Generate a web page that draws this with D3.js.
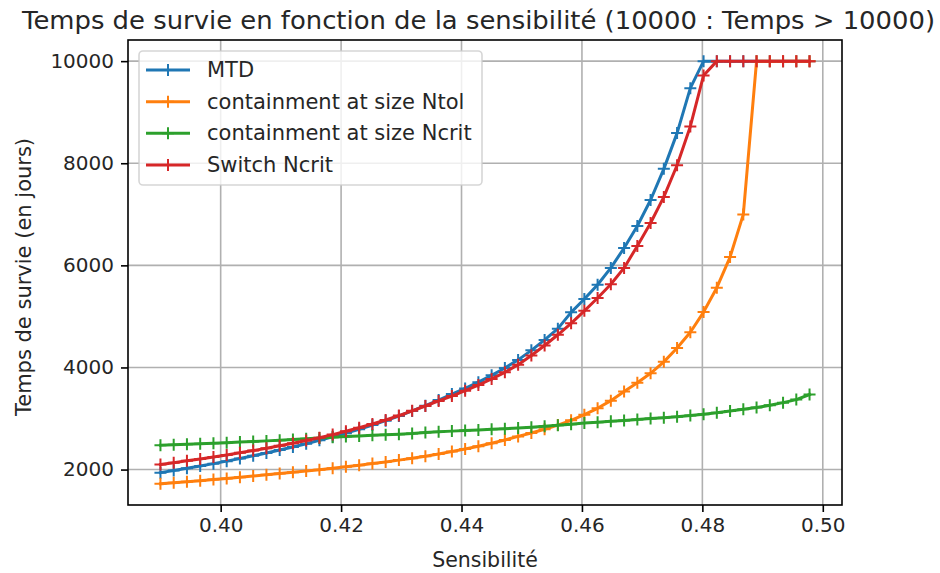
<!DOCTYPE html>
<html>
<head>
<meta charset="utf-8">
<script src="https://cdn.jsdelivr.net/npm/d3@7"></script>
<style>
  body { margin: 0; background: #fff; }
  text { font-family: "DejaVu Sans", sans-serif; fill: #262626; }
</style>
</head>
<body>
<svg id="chart" width="940" height="573"></svg>
<script>
// Sensibilité values (x)
const sensibilite = [
  0.3900, 0.3922, 0.3944, 0.3966, 0.3988, 0.4010, 0.4032, 0.4054, 0.4076, 0.4098,
  0.4120, 0.4142, 0.4164, 0.4186, 0.4208, 0.4230, 0.4252, 0.4274, 0.4296, 0.4318,
  0.4340, 0.4362, 0.4384, 0.4406, 0.4428, 0.4450, 0.4472, 0.4494, 0.4516, 0.4538,
  0.4560, 0.4582, 0.4604, 0.4626, 0.4648, 0.4670, 0.4692, 0.4714, 0.4736, 0.4758,
  0.4780, 0.4802, 0.4824, 0.4846, 0.4868, 0.4890, 0.4912, 0.4934, 0.4956, 0.4978
];

// Survival time (days), capped at 10000
const mtd = [
  1940, 1981, 2024, 2069, 2116, 2165, 2216, 2269, 2325, 2383,
  2443, 2506, 2572, 2641, 2713, 2790, 2872, 2958, 3050, 3148,
  3252, 3362, 3478, 3590, 3712, 3845, 3990, 4148, 4335, 4540,
  4760, 5080, 5340, 5620, 5950, 6340, 6770, 7280, 7890, 8590,
  9470, 10000, 10000, 10000, 10000, 10000, 10000, 10000, 10000, 10000
];
const containmentNtol = [
  1720, 1741, 1762, 1783, 1805, 1827, 1850, 1873, 1897, 1921,
  1946, 1972, 1998, 2026, 2055, 2085, 2117, 2150, 2185, 2222,
  2262, 2305, 2352, 2402, 2456, 2515, 2580, 2650, 2715, 2790,
  2872, 2965, 3075, 3200, 3350, 3530, 3700, 3885, 4110, 4380,
  4690, 5085, 5563, 6162, 6998, 10000, 10000, 10000, 10000, 10000
];
const containmentNcrit = [
  2476, 2486, 2496, 2506, 2516, 2527, 2538, 2550, 2562, 2575,
  2589, 2604, 2620, 2634, 2647, 2659, 2671, 2682, 2694, 2706,
  2725, 2740, 2753, 2765, 2777, 2789, 2801, 2815, 2830, 2847,
  2866, 2888, 2910, 2928, 2945, 2962, 2980, 2998, 3015, 3035,
  3058, 3085, 3112, 3147, 3180, 3214, 3259, 3311, 3370, 3470
];
const switchNcrit = [
  2100, 2135, 2171, 2208, 2246, 2286, 2328, 2372, 2418, 2466,
  2516, 2569, 2625, 2685, 2749, 2818, 2892, 2972, 3058, 3150,
  3245, 3345, 3440, 3545, 3655, 3775, 3905, 4055, 4235, 4430,
  4640, 4865, 5110, 5360, 5630, 5950, 6380, 6830, 7340, 7960,
  8720, 9720, 10000, 10000, 10000, 10000, 10000, 10000, 10000, 10000
];

const seriesNames = ["MTD", "containment at size Ntol", "containment at size Ncrit", "Switch Ncrit"];
const seriesValues = [mtd, containmentNtol, containmentNcrit, switchNcrit];
const seriesColors = ["#1f77b4", "#ff7f0e", "#2ca02c", "#d62728"];

const xTicks = [0.40, 0.42, 0.44, 0.46, 0.48, 0.50];
const yTicks = [2000, 4000, 6000, 8000, 10000];

const titleText = "Temps de survie en fonction de la sensibilité (10000 : Temps > 10000)";
const xLabel = "Sensibilité";
const yLabel = "Temps de survie (en jours)";

// Plot frame
const frame = { left: 128, right: 842, top: 40, bottom: 505 };

const svg = d3.select("#chart");

const xExtent = d3.extent(sensibilite);
const xPad = (xExtent[1] - xExtent[0]) * 0.05;
const x = d3.scaleLinear()
  .domain([xExtent[0] - xPad, xExtent[1] + xPad])
  .range([frame.left, frame.right]);

const allY = seriesValues.flat();
const yMin = d3.min(allY), yMax = d3.max(allY);
const yPad = (yMax - yMin) * 0.05;
const y = d3.scaleLinear()
  .domain([yMin - yPad, yMax + yPad])
  .range([frame.bottom, frame.top]);

// Grid
const grid = svg.append("g").attr("stroke", "#b0b0b0").attr("stroke-width", 1.6);
grid.selectAll("line.gx").data(xTicks).join("line")
  .attr("x1", d => x(d)).attr("x2", d => x(d))
  .attr("y1", frame.top).attr("y2", frame.bottom);
grid.selectAll("line.gy").data(yTicks).join("line")
  .attr("x1", frame.left).attr("x2", frame.right)
  .attr("y1", d => y(d)).attr("y2", d => y(d));

// Series lines and "+" markers
const line = d3.line().x((d, i) => x(sensibilite[i])).y(d => y(d));
const plus = "M-6,0H6M0,-6V6";

seriesValues.forEach((vals, k) => {
  const g = svg.append("g");
  g.append("path")
    .attr("d", line(vals))
    .attr("fill", "none")
    .attr("stroke", seriesColors[k])
    .attr("stroke-width", 3)
    .attr("stroke-linejoin", "round")
    .attr("stroke-linecap", "square");
  g.selectAll("path.m").data(vals).join("path")
    .attr("class", "m")
    .attr("d", plus)
    .attr("transform", (d, i) => `translate(${x(sensibilite[i])},${y(d)})`)
    .attr("stroke", seriesColors[k])
    .attr("stroke-width", 2);
});

// Axes
const xAxis = d3.axisBottom(x).tickValues(xTicks).tickFormat(d3.format(".2f"))
  .tickSize(7).tickPadding(6);
const yAxis = d3.axisLeft(y).tickValues(yTicks).tickFormat(d3.format("d"))
  .tickSize(7).tickPadding(7);

const gx = svg.append("g").attr("transform", `translate(0,${frame.bottom})`).call(xAxis);
const gy = svg.append("g").attr("transform", `translate(${frame.left},0)`).call(yAxis);
[gx, gy].forEach(g => {
  g.select(".domain").remove();
  g.selectAll(".tick line").attr("stroke", "#000").attr("stroke-width", 1.6);
  g.selectAll(".tick text").attr("font-size", 20).attr("fill", "#262626")
    .style("font-family", "'DejaVu Sans', sans-serif");
});

// Frame
svg.append("rect")
  .attr("x", frame.left).attr("y", frame.top)
  .attr("width", frame.right - frame.left).attr("height", frame.bottom - frame.top)
  .attr("fill", "none").attr("stroke", "#000").attr("stroke-width", 1.6);

// Title and axis labels
svg.append("text")
  .attr("x", 478.5).attr("y", 29)
  .attr("text-anchor", "middle").attr("font-size", 25.5)
  .attr("textLength", 913).attr("lengthAdjust", "spacingAndGlyphs")
  .text(titleText);
svg.append("text")
  .attr("x", (frame.left + frame.right) / 2).attr("y", 567)
  .attr("text-anchor", "middle").attr("font-size", 20.5)
  .text(xLabel);
svg.append("text")
  .attr("transform", `translate(31,277) rotate(-90)`)
  .attr("text-anchor", "middle").attr("font-size", 21)
  .text(yLabel);

// Legend
const legend = svg.append("g");
legend.append("rect")
  .attr("x", 139).attr("y", 51)
  .attr("width", 343).attr("height", 134)
  .attr("rx", 4)
  .attr("fill", "#fff").attr("fill-opacity", 0.8)
  .attr("stroke", "#cccccc").attr("stroke-opacity", 0.8).attr("stroke-width", 1.6);
const rowY = d3.scalePoint().domain(seriesNames).range([70, 165]);
seriesNames.forEach((name, k) => {
  const cy = rowY(name);
  legend.append("line")
    .attr("x1", 146).attr("x2", 190).attr("y1", cy).attr("y2", cy)
    .attr("stroke", seriesColors[k]).attr("stroke-width", 3);
  legend.append("path")
    .attr("d", plus).attr("transform", `translate(168,${cy})`)
    .attr("stroke", seriesColors[k]).attr("stroke-width", 2);
  legend.append("text")
    .attr("x", 207).attr("y", cy)
    .attr("dominant-baseline", "central").attr("font-size", 21)
    .text(name);
});
</script>
</body>
</html>
